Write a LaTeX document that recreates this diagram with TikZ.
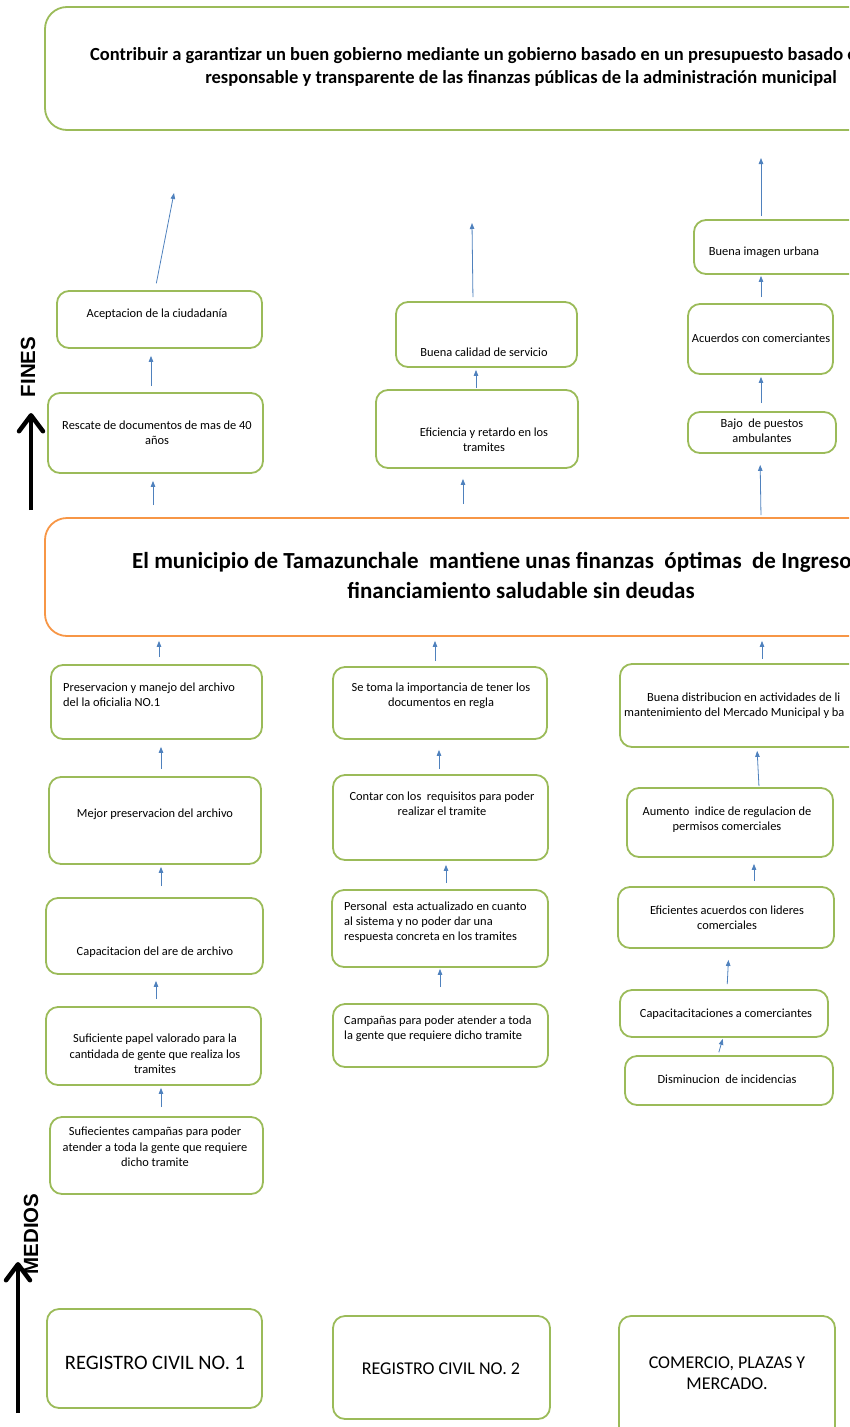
\documentclass[tikz,border=0pt]{standalone}
\usepackage{fontspec}
\setmainfont{Carlito}
\newfontfamily\etiq{Liberation Sans}
\usetikzlibrary{arrows.meta,fit}
\definecolor{verde}{HTML}{9BBB59}
\definecolor{naranja}{HTML}{F79646}
\definecolor{azul}{HTML}{4F81BD}
\tikzset{
  caja/.style={draw=verde,line width=1.8pt,rounded corners=12pt,inner sep=0pt},
  texto/.style={inner sep=0pt,align=center,font=\fontsize{12.4}{15.3}\selectfont},
  flecha/.style={draw=azul,line width=0.8pt,-{Triangle[length=6pt,width=4.5pt]}},
  grueso/.style={line width=4.5pt,-{Straight Barb[length=16pt,width=24pt,round]}},
  rotulo/.style={rotate=90,inner sep=0pt,font=\etiq\bfseries\fontsize{20.5}{20}\selectfont},
}
\begin{document}
\begin{tikzpicture}[x=1pt,y=-1pt]
  \useasboundingbox (0,0) rectangle (849,1427);
  \clip (0,0) rectangle (849,1427);

  \node[caja,rounded corners=22pt,fit={(45,7) (900,130)}] (fin) {};
  \node[texto,anchor=west,font=\fontsize{18.5}{22}\bfseries] (fint1) at (90,56) {Contribuir a garantizar un buen gobierno mediante un gobierno basado en un presupuesto basado e};
  \node[texto,font=\fontsize{18.5}{22}\bfseries] (fint2) at (521,78) {responsable y transparente de las finanzas públicas de la administración municipal};

  \node[caja,fit={(57,291) (262,348)}] (acep) {};
  \node[texto] (tacep) at (157,314) {Aceptacion de la ciudadanía};
  \node[caja,fit={(48,393) (263,473)}] (resc) {};
  \node[texto] (tresc) at (157,433) {Rescate de documentos de mas de 40\\años};
  \node[caja,fit={(396,302) (577,367)}] (cali) {};
  \node[texto] (tcali) at (484,352) {Buena calidad de servicio};
  \node[caja,fit={(376,390) (578,468)}] (efic) {};
  \node[texto] (tefic) at (484,440) {Eficiencia y retardo en los\\tramites};
  \node[caja,fit={(694,220) (880,274)}] (imag) {};
  \node[texto] (timag) at (764,252) {Buena imagen urbana};
  \node[caja,fit={(688,304) (833,374)}] (acue) {};
  \node[texto] (tacue) at (761,338) {Acuerdos con comerciantes};
  \node[caja,fit={(688,412) (836,453)}] (bajo) {};
  \node[texto] (tbajo) at (762,431) {Bajo\ \ de puestos\\ambulantes};

  \node[caja,draw=naranja,rounded corners=22pt,fit={(45,518) (900,636)}] (prop) {};
  \node[texto,anchor=west,font=\fontsize{23}{28}\bfseries] (propt1) at (132,562) {El municipio de Tamazunchale\ \ mantiene unas finanzas\ \ óptimas\ \ de Ingreso};
  \node[texto,font=\fontsize{23}{28}\bfseries] (propt2) at (521,590) {financiamiento saludable sin deudas};

  \node[caja,fit={(51,665) (262,739)}] (pres) {};
  \node[texto,align=left,anchor=west] (tpres) at (63,695) {Preservacion y manejo del archivo\\del la oficialia NO.1};
  \node[caja,fit={(49,777) (261,864)}] (mejo) {};
  \node[texto] (tmejo) at (155,814) {Mejor preservacion del archivo};
  \node[caja,fit={(46,898) (263,974)}] (capa) {};
  \node[texto] (tcapa) at (155,952) {Capacitacion del are de archivo};
  \node[caja,fit={(46,1007) (261,1085)}] (pape) {};
  \node[texto] (tpape) at (155,1054) {Suficiente papel valorado para la\\cantidada de gente que realiza los\\tramites};
  \node[caja,fit={(50,1117) (263,1194)}] (sufi) {};
  \node[texto] (tsufi) at (155,1147) {Sufiecientes campañas para poder\\atender a toda la gente que requiere\\dicho tramite};

  \node[caja,fit={(333,667) (547,739)}] (toma) {};
  \node[texto] (ttoma) at (441,696) {Se toma la importancia de tener los\\documentos en regla};
  \node[caja,fit={(333,775) (548,860)}] (cont) {};
  \node[texto] (tcont) at (442,804) {Contar con los\ \ requisitos para poder\\realizar el tramite};
  \node[caja,fit={(332,890) (548,967)}] (pers) {};
  \node[texto,align=left,anchor=west] (tpers) at (344,922) {Personal\ \ esta actualizado en cuanto\\al sistema y no poder dar una\\respuesta concreta en los tramites};
  \node[caja,fit={(333,1004) (548,1067)}] (camp) {};
  \node[texto,align=left,anchor=west] (tcamp) at (344,1029) {Campañas para poder atender a toda\\la gente que requiere dicho tramite};

  \node[caja,fit={(620,664) (900,747)}] (dist) {};
  \node[texto,align=left,anchor=west] (tdist) at (624,706) {\hspace*{23pt}Buena distribucion en actividades de li\\mantenimiento del Mercado Municipal y ba};
  \node[caja,fit={(627,788) (833,857)}] (aume) {};
  \node[texto] (taume) at (727,820) {Aumento\ \ indice de regulacion de\\permisos comerciales};
  \node[caja,fit={(618,887) (834,948)}] (efi2) {};
  \node[texto] (tefi2) at (727,918) {Eficientes acuerdos con lideres\\comerciales};
  \node[caja,fit={(620,990) (828,1037)}] (capc) {};
  \node[texto] (tcapc) at (726,1014) {Capacitacitaciones a comerciantes};
  \node[caja,fit={(625,1056) (833,1105)}] (dism) {};
  \node[texto] (tdism) at (727,1079) {Disminucion\ \ de incidencias};

  \node[caja,fit={(47,1309) (262,1408)}] (reg1) {};
  \node[texto,font=\fontsize{20.5}{24}\selectfont] (treg1) at (155,1363) {REGISTRO CIVIL NO. 1};
  \node[caja,fit={(333,1316) (550,1419)}] (reg2) {};
  \node[texto,font=\fontsize{18}{22}\selectfont] (treg2) at (441,1369) {REGISTRO CIVIL NO. 2};
  \node[caja,fit={(619,1316) (835,1445)}] (come) {};
  \node[texto,font=\fontsize{18}{21}\selectfont] (tcome) at (727,1373) {COMERCIO, PLAZAS Y\\MERCADO.};

  \node[rotulo] (fines) at (28,367) {FINES};
  \node[rotulo] (medios) at (31,1234) {MEDIOS};
  \coordinate (finesa) at (31,510);
  \coordinate (finesb) at (31,413);
  \coordinate (mediosa) at (18,1413);
  \coordinate (mediosb) at (18,1262);
  \draw[grueso] (finesa) -- (finesb);
  \draw[grueso] (mediosa) -- (mediosb);

  \coordinate (puntaa) at (174,193);
  \coordinate (puntab) at (472,223);
  \coordinate (puntac) at (761,158);
  \draw[flecha,shorten <=7pt] (155,0 |- acep.north) -- (puntaa);
  \draw[flecha,shorten <=6pt,shorten >=7pt] (151,0 |- resc.north) -- (151,0 |- acep.south);
  \draw[flecha,shorten <=12pt,shorten >=7pt] (153,0 |- prop.north) -- (153,0 |- resc.south);
  \draw[flecha,shorten <=4pt] (473,0 |- cali.north) -- (puntab);
  \draw[flecha,shorten <=1pt,shorten >=2pt] (476,0 |- efic.north) -- (476,0 |- cali.south);
  \draw[flecha,shorten <=13pt,shorten >=10pt] (463,0 |- prop.north) -- (463,0 |- efic.south);
  \draw[flecha,shorten <=3pt] (761,0 |- imag.north) -- (puntac);
  \draw[flecha,shorten <=6pt,shorten >=1pt] (761,0 |- acue.north) -- (761,0 |- imag.south);
  \draw[flecha,shorten <=8pt,shorten >=2pt] (761,0 |- bajo.north) -- (761,0 |- acue.south);
  \draw[flecha,shorten <=2pt,shorten >=11pt] (761,0 |- prop.north) -- (760,0 |- bajo.south);

  \draw[flecha,shorten <=7pt,shorten >=4pt] (159,0 |- pres.north) -- (159,0 |- prop.south);
  \draw[flecha,shorten <=7pt,shorten >=7pt] (161,0 |- mejo.north) -- (161,0 |- pres.south);
  \draw[flecha,shorten <=11pt,shorten >=2pt] (161,0 |- capa.north) -- (161,0 |- mejo.south);
  \draw[flecha,shorten <=7pt,shorten >=6pt] (156,0 |- pape.north) -- (156,0 |- capa.south);
  \draw[flecha,shorten <=9pt,shorten >=2pt] (161,0 |- sufi.north) -- (161,0 |- pape.south);
  \draw[flecha,shorten <=5pt,shorten >=4pt] (435,0 |- toma.north) -- (435,0 |- prop.south);
  \draw[flecha,shorten <=5pt,shorten >=10pt] (439,0 |- cont.north) -- (439,0 |- toma.south);
  \draw[flecha,shorten <=6pt,shorten >=4pt] (446,0 |- pers.north) -- (446,0 |- cont.south);
  \draw[flecha,shorten <=16pt,shorten >=1pt] (440,0 |- camp.north) -- (440,0 |- pers.south);
  \draw[flecha,shorten <=4pt,shorten >=4pt] (762,0 |- dist.north) -- (762,0 |- prop.south);
  \draw[flecha,shorten <=1pt,shorten >=3pt] (759,0 |- aume.north) -- (757,0 |- dist.south);
  \draw[flecha,shorten <=5pt,shorten >=6pt] (754,0 |- efi2.north) -- (754,0 |- aume.south);
  \draw[flecha,shorten <=5pt,shorten >=11pt] (727,0 |- capc.north) -- (729,0 |- efi2.south);
  \draw[flecha,shorten <=3pt,shorten >=1pt] (718,0 |- dism.north) -- (723,0 |- capc.south);
\end{tikzpicture}
\end{document}
